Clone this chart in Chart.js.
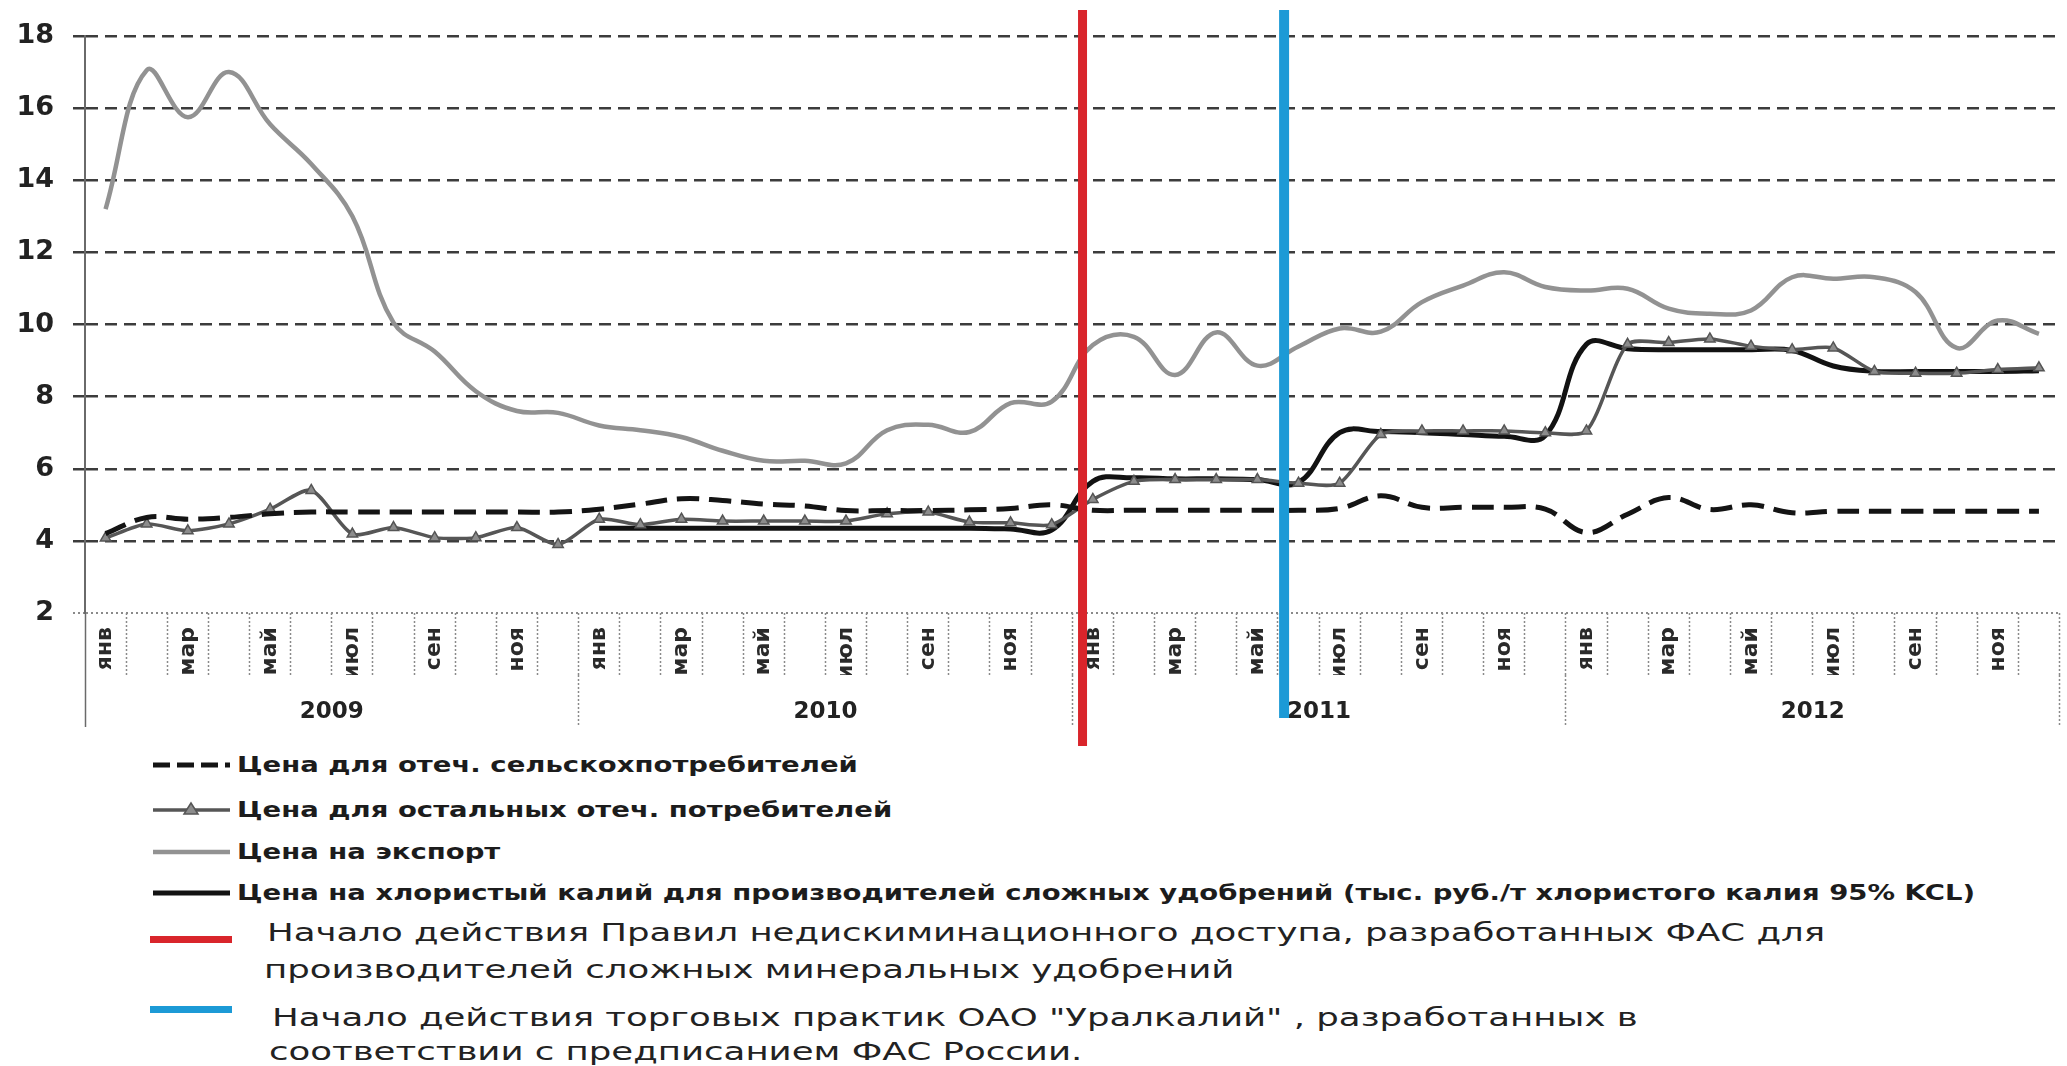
<!DOCTYPE html>
<html lang="ru">
<head>
<meta charset="utf-8">
<script src="https://cdn.jsdelivr.net/npm/chart.js@4.4.1/dist/chart.umd.min.js"></script>
<style>
  html, body { margin: 0; padding: 0; background: #fff; }
  body { width: 2067px; height: 1066px; overflow: hidden; position: relative; font-family: "DejaVu Sans", sans-serif; color: #1c1c1c; }
  #chart-wrap { position: absolute; left: 0; top: 0; width: 2067px; height: 750px; }
  .row { position: absolute; white-space: nowrap; }
  .row svg { position: absolute; left: 0; top: 0; }
  .b { position: absolute; font-weight: bold; font-size: 21px; line-height: 26px; transform: scaleX(1.31); transform-origin: 0 50%; }
  .r { position: absolute; font-size: 24px; line-height: 30px; transform: scaleX(1.48); transform-origin: 0 50%; color: #222; }
</style>
</head>
<body>
<div id="chart-wrap"><canvas id="price-chart"></canvas></div>

<div id="legend"></div>

<script>
// months / years for the two-level category axis
const months = ['янв', 'фев', 'мар', 'апр', 'май', 'июн', 'июл', 'авг', 'сен', 'окт', 'ноя', 'дек'];
const years = ['2009', '2010', '2011', '2012'];
const monthLabels = years.flatMap(() => months);
const yTickValues = [2, 4, 6, 8, 10, 12, 14, 16, 18];

// тыс. руб./т (2009-2012)
const agriPrice = [
    4.2, 4.65, 4.6, 4.65, 4.75, 4.8, 4.8, 4.8, 4.8, 4.8, 4.8, 4.8,
    4.88, 5.02, 5.17, 5.12, 5.02, 4.97, 4.84, 4.84, 4.84, 4.86, 4.9, 5.0,
    4.85, 4.85, 4.85, 4.85, 4.85, 4.85, 4.9, 5.25, 4.93, 4.93, 4.93, 4.88,
    4.23, 4.74, 5.2, 4.87, 5.0, 4.78, 4.82, 4.82, 4.82, 4.82, 4.82, 4.82
];
const otherDomesticPrice = [
    4.08, 4.47, 4.28, 4.47, 4.88, 5.4, 4.19, 4.37, 4.09, 4.09, 4.37, 3.9,
    4.6, 4.45, 4.6, 4.55, 4.55, 4.55, 4.55, 4.75, 4.8, 4.52, 4.5, 4.45,
    5.15, 5.65, 5.7, 5.7, 5.7, 5.6, 5.6, 6.95, 7.05, 7.05, 7.05, 7.0,
    7.05, 9.45, 9.5, 9.6, 9.4, 9.3, 9.35, 8.7, 8.65, 8.65, 8.75, 8.8
];
const exportPrice = [
    13.2, 17.05, 15.75, 17.0, 15.55, 14.45, 13.0, 10.05, 9.25, 8.15, 7.6, 7.55,
    7.2, 7.07, 6.88, 6.5, 6.22, 6.22, 6.15, 7.07, 7.22, 7.02, 7.82, 7.86,
    9.43, 9.66, 8.6, 9.78, 8.86, 9.39, 9.89, 9.8, 10.62, 11.08, 11.45, 11.04,
    10.94, 10.99, 10.44, 10.3, 10.39, 11.31, 11.27, 11.31, 10.9, 9.35, 10.11, 9.74
];
const complexFertPrice = [
    null, null, null, null, null, null, null, null, null, null, null, null,
    4.35, 4.35, 4.35, 4.35, 4.35, 4.35, 4.35, 4.35, 4.35, 4.35, 4.33, 4.3,
    5.65, 5.75, 5.72, 5.72, 5.7, 5.62, 7.0, 7.03, 7.0, 6.95, 6.9, 6.92,
    9.45, 9.33, 9.3, 9.3, 9.3, 9.28, 8.85, 8.7, 8.7, 8.7, 8.7, 8.72
];

// dates of the two FAS events, as month positions on the category axis
const eventMonths = [23.75, 28.65];
const eventColors = ['#d9252b', '#1c9ad6'];

const seriesNames = [
    'Цена для отеч. сельскохпотребителей',
    'Цена для остальных отеч. потребителей',
    'Цена на экспорт',
    'Цена на хлористый калий для производителей сложных удобрений (тыс. руб./т хлористого калия 95% KCL)'
];
const eventNames = [
    ['Начало действия Правил недискиминационного доступа, разработанных ФАС для',
     'производителей сложных минеральных удобрений'],
    ['Начало действия торговых практик ОАО "Уралкалий" , разработанных в',
     'соответствии с предписанием ФАС России.']
];

const FONT = 'DejaVu Sans';

// vertical red / blue lines over the plot
const eventLines = {
    id: 'eventLines',
    afterDatasetsDraw(chart) {
        const ctx = chart.ctx;
        const xs = chart.scales.x;
        const ends = [chart.height - 4, chart.scales.x2.bottom - 17];
        eventMonths.forEach((m, i) => {
            const px = xs.getPixelForValue(m);
            ctx.save();
            ctx.strokeStyle = eventColors[i];
            ctx.lineWidth = i === 0 ? 9 : 10;
            ctx.beginPath();
            ctx.moveTo(px, 10);
            ctx.lineTo(px, ends[i]);
            ctx.stroke();
            ctx.restore();
        });
    }
};

// left edge of the category axes looks like a continuation of the y axis
const edgeColor = c => (c.index === 0 ? '#6a6a6a' : '#8a8a8a');
const edgeDash = c => (c.index === 0 ? [] : [2, 2]);

function buildChart() {
    const canvas = document.getElementById('price-chart');
    const ctx = canvas.getContext('2d');

    return new Chart(ctx, {
        type: 'line',
        data: {
            labels: monthLabels,
            datasets: [{
                label: seriesNames[0],
                data: agriPrice,
                borderColor: '#141414',
                borderWidth: 5,
                borderDash: [22, 10],
                pointRadius: 0,
                tension: 0.4
            }, {
                label: seriesNames[1],
                data: otherDomesticPrice,
                borderColor: '#565656',
                borderWidth: 3.5,
                pointStyle: 'triangle',
                pointRadius: 6,
                pointBackgroundColor: '#8c8c8c',
                pointBorderColor: '#555',
                pointBorderWidth: 1.5,
                tension: 0.25
            }, {
                label: seriesNames[2],
                data: exportPrice,
                borderColor: '#929292',
                borderWidth: 4.5,
                pointRadius: 0,
                tension: 0.4
            }, {
                label: seriesNames[3],
                data: complexFertPrice,
                borderColor: '#121212',
                borderWidth: 5,
                pointRadius: 0,
                tension: 0.4
            }]
        },
        options: {
            responsive: true,
            maintainAspectRatio: false,
            animation: false,
            layout: { padding: { left: 0, top: 36, right: 0, bottom: 15 } },
            plugins: {
                legend: { display: false },
                tooltip: { enabled: false }
            },
            scales: {
                x: {
                    type: 'category',
                    offset: true,
                    afterFit: s => { s.height = 62; },
                    grid: {
                        offset: true,
                        drawOnChartArea: false,
                        tickLength: 62,
                        tickColor: edgeColor,
                        tickWidth: 1.5,
                        tickBorderDash: edgeDash
                    },
                    border: { display: false },
                    ticks: {
                        autoSkip: false,
                        minRotation: 90,
                        maxRotation: 90,
                        padding: -48,
                        color: '#2a2a2a',
                        font: { family: FONT, weight: 'bold', size: 22 },
                        callback: (v, i) => (i % 2 === 0 ? monthLabels[i] : '')
                    }
                },
                x2: {
                    type: 'category',
                    labels: years,
                    position: 'bottom',
                    offset: true,
                    afterFit: s => { s.height = 60; },
                    grid: {
                        offset: true,
                        drawOnChartArea: false,
                        tickLength: 52,
                        tickColor: edgeColor,
                        tickWidth: 1.5,
                        tickBorderDash: edgeDash
                    },
                    border: { display: false },
                    ticks: {
                        padding: -29,
                        color: '#222',
                        font: { family: FONT, weight: 'bold', size: 23 }
                    }
                },
                y: {
                    min: 2,
                    max: 18,
                    afterFit: s => { s.width = 85; },
                    afterBuildTicks: scale => {
                        scale.ticks = yTickValues.map(v => ({ value: v }));
                    },
                    grid: {
                        color: c => (c.tick && c.tick.value === 2 ? '#8a8a8a' : '#3c3c3c'),
                        lineWidth: c => (c.tick && c.tick.value === 2 ? 2 : 2.5),
                        tickLength: 12,
                        tickBorderDash: c => (c.tick && c.tick.value === 2 ? [2, 3] : [12, 7])
                    },
                    border: {
                        display: true,
                        color: '#6a6a6a',
                        width: 2,
                        dash: c => (c.tick && c.tick.value === 2 ? [2, 3] : [12, 7])
                    },
                    ticks: {
                        padding: 19,
                        color: '#222',
                        font: { family: FONT, weight: 'bold', size: 27 }
                    }
                }
            }
        },
        plugins: [eventLines]
    });
}

// legend below the chart (html, the picture uses a stretched font)
function buildLegend(chart) {
    const box = document.getElementById('legend');
    const rowTops = [752, 797, 839, 880];
    chart.data.datasets.forEach((ds, i) => {
        const row = document.createElement('div');
        row.className = 'row';
        row.style.left = '153px';
        row.style.top = rowTops[i] + 'px';
        const dash = ds.borderDash ? 'stroke-dasharray="17 7"' : '';
        let svg = `<svg width="80" height="26"><line x1="0" y1="13" x2="77" y2="13" stroke="${ds.borderColor}" stroke-width="${Math.max(ds.borderWidth, 3.5)}" ${dash}/>`;
        if (ds.pointStyle === 'triangle') {
            svg += `<polygon points="38,6 45,17 31,17" fill="${ds.pointBackgroundColor}" stroke="${ds.pointBorderColor}" stroke-width="1.5"/>`;
        }
        svg += '</svg>';
        row.innerHTML = svg + `<span class="b" style="left:84px;top:0">${ds.label}</span>`;
        box.appendChild(row);
    });

    const blocks = [
        { top: 918, bar: 22, left: 117, lines: [0, 37] },
        { top: 1003, bar: 7, left: 122, lines: [0, 34] }
    ];
    eventNames.forEach((txt, i) => {
        const b = blocks[i];
        const row = document.createElement('div');
        row.className = 'row';
        row.style.left = '150px';
        row.style.top = b.top + 'px';
        let html = `<svg width="90" height="30" style="top:${b.bar - 4}px"><rect x="0" y="0" width="82" height="7" fill="${eventColors[i]}"/></svg>`;
        txt.forEach((t, j) => {
            html += `<span class="r" style="left:${b.left + (j ? -3 : 0)}px;top:${b.lines[j]}px">${t}</span>`;
        });
        row.innerHTML = html;
        box.appendChild(row);
    });
}

const currentChart = buildChart();
buildLegend(currentChart);
</script>
</body>
</html>
